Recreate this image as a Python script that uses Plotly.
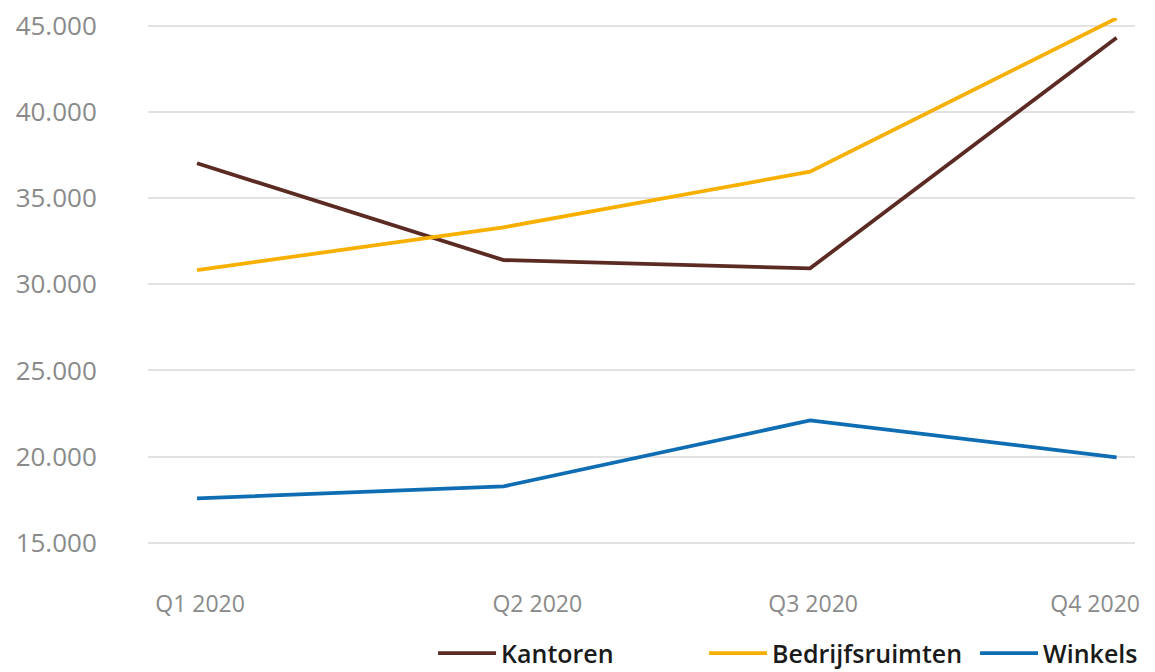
import plotly.graph_objects as go

quarters = ["Q1 2020", "Q2 2020", "Q3 2020", "Q4 2020"]
kantoren = [37030, 31410, 30930, 44320]
bedrijfsruimten = [30830, 33310, 36540, 45450]
winkels = [17570, 18270, 22100, 19960]
y_ticks = [15000, 20000, 25000, 30000, 35000, 40000, 45000]

x_idx = list(range(len(quarters)))
# label positions slightly offset as in the reference
label_pos = [0.01, 1.11, 2.01, 2.93]

FONT = "Open Sans, sans-serif"

fig = go.Figure()
series = [
    ("Kantoren", kantoren, "#5b2a22"),
    ("Bedrijfsruimten", bedrijfsruimten, "#f7b000"),
    ("Winkels", winkels, "#0f6db3"),
]
for name, vals, col in series:
    fig.add_trace(go.Scatter(x=x_idx, y=vals, name=name, mode="lines",
                             cliponaxis=False,
                             line=dict(color=col, width=3.8)))

# page has an 8px body margin; figure sized to fit the window
fig.update_layout(
    width=1147, height=664,
    margin=dict(l=140, r=20, t=10, b=92),
    plot_bgcolor="white", paper_bgcolor="white",
    separators=",.",
    font=dict(family=FONT),
    showlegend=True,
    legend=dict(orientation="h", xref="container", x=0.725, xanchor="center",
                yref="container", y=0.028, yanchor="middle",
                font=dict(size=25, color="#1a1a1a", family=FONT, weight=600),
                itemwidth=58, entrywidth=198, tracegroupgap=0),
)
fig.update_xaxes(range=[-0.16, 3.06], tickvals=label_pos, ticktext=quarters,
                 showgrid=False, zeroline=False, showline=False, automargin=False,
                 ticks="outside", ticklen=3, tickcolor="rgba(0,0,0,0)",
                 tickfont=dict(size=23, color="#8a8a8a", family=FONT))
fig.update_yaxes(range=[12834, 45465], tickvals=y_ticks, tickformat=",d",
                 showgrid=True, gridcolor="#e2e2e2", gridwidth=1.5,
                 zeroline=False, showline=False, ticklabeloverflow="allow",
                 automargin=False,
                 ticks="outside", ticklen=45, tickcolor="rgba(0,0,0,0)",
                 tickfont=dict(size=26, color="#8a8a8a", family=FONT))

fig.write_html("out.html")
